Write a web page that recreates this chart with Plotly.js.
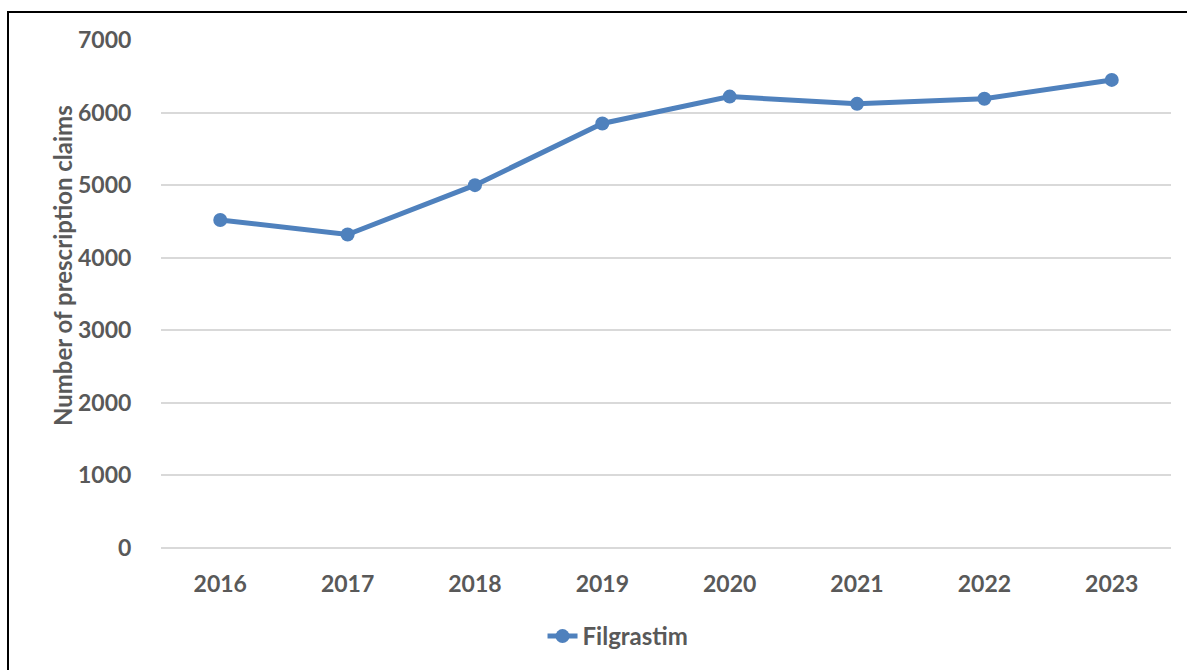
<!DOCTYPE html>
<html>
<head>
<meta charset="utf-8">
<script src="https://cdn.plot.ly/plotly-3.0.1.min.js"></script>
<style>
  html, body { margin: 0; padding: 0; background: #fff; overflow: hidden; }
  #wrap { position: relative; width: 1187px; height: 670px; }
  #chart { position: absolute; left: 0; top: 0; width: 1187px; height: 670px; }
  #frame { position: absolute; left: 7px; top: 11px; width: 1300px; height: 800px;
           border: 2px solid #000; pointer-events: none; box-sizing: border-box; }
</style>
</head>
<body>
<div id="wrap">
  <div id="chart"></div>
  <div id="frame"></div>
</div>
<script>
// Yearly prescription claims for filgrastim
const years = ['2016', '2017', '2018', '2019', '2020', '2021', '2022', '2023'];
const claims = [4520, 4320, 5000, 5850, 6220, 6120, 6190, 6450];
const seriesName = 'Filgrastim';
const yAxisLabel = 'Number of prescription claims';
const yTickValues = [0, 1000, 2000, 3000, 4000, 5000, 6000, 7000];

const textColor = '#595959';
const lineColor = '#4F81BD';
const gridColor = '#D9D9D9';
const fontFamily = 'Lato, "Open Sans", sans-serif';

const trace = {
  x: years,
  y: claims,
  name: seriesName,
  type: 'scatter',
  mode: 'lines+markers',
  line: { color: lineColor, width: 5 },
  marker: { color: lineColor, size: 14 },
  showlegend: true,
  cliponaxis: false
};

const layout = {
  width: 1187,
  height: 670,
  paper_bgcolor: 'rgba(0,0,0,0)',
  plot_bgcolor: 'rgba(0,0,0,0)',
  margin: { l: 161, r: 16, t: 40, b: 122, autoexpand: false },
  font: { family: fontFamily, color: textColor, size: 23, weight: 'bold' },
  xaxis: {
    type: 'category',
    showgrid: false,
    zeroline: false,
    showline: false,
    ticks: 'outside',
    ticklen: 15,
    tickcolor: 'rgba(0,0,0,0)',
    tickfont: { family: fontFamily, size: 23, color: textColor, weight: 'bold' }
  },
  yaxis: {
    range: [0, 7000],
    tickvals: yTickValues,
    ticktext: yTickValues.map(String),
    showgrid: true,
    gridcolor: gridColor,
    gridwidth: 2,
    zeroline: true,
    zerolinecolor: gridColor,
    zerolinewidth: 2,
    showline: false,
    ticks: 'outside',
    ticklen: 24,
    tickcolor: 'rgba(0,0,0,0)',
    tickfont: { family: fontFamily, size: 23, color: textColor, weight: 'bold' }
  },
  // axis label placed as a rotated annotation so it sits left of the ticks
  annotations: [{
    text: yAxisLabel,
    xref: 'paper', yref: 'paper',
    x: -0.098, y: 0.555,
    xanchor: 'center', yanchor: 'middle',
    textangle: -90,
    showarrow: false,
    font: { family: fontFamily, size: 24, color: textColor, weight: 'bold' }
  }],
  legend: {
    orientation: 'h',
    x: 0.4525,
    xanchor: 'center',
    yref: 'container',
    y: 0.05,
    yanchor: 'middle',
    font: { family: fontFamily, size: 24, color: textColor, weight: 'bold' }
  },
  showlegend: true
};

Plotly.newPlot('chart', [trace], layout, { displayModeBar: false, staticPlot: true });
</script>
</body>
</html>
